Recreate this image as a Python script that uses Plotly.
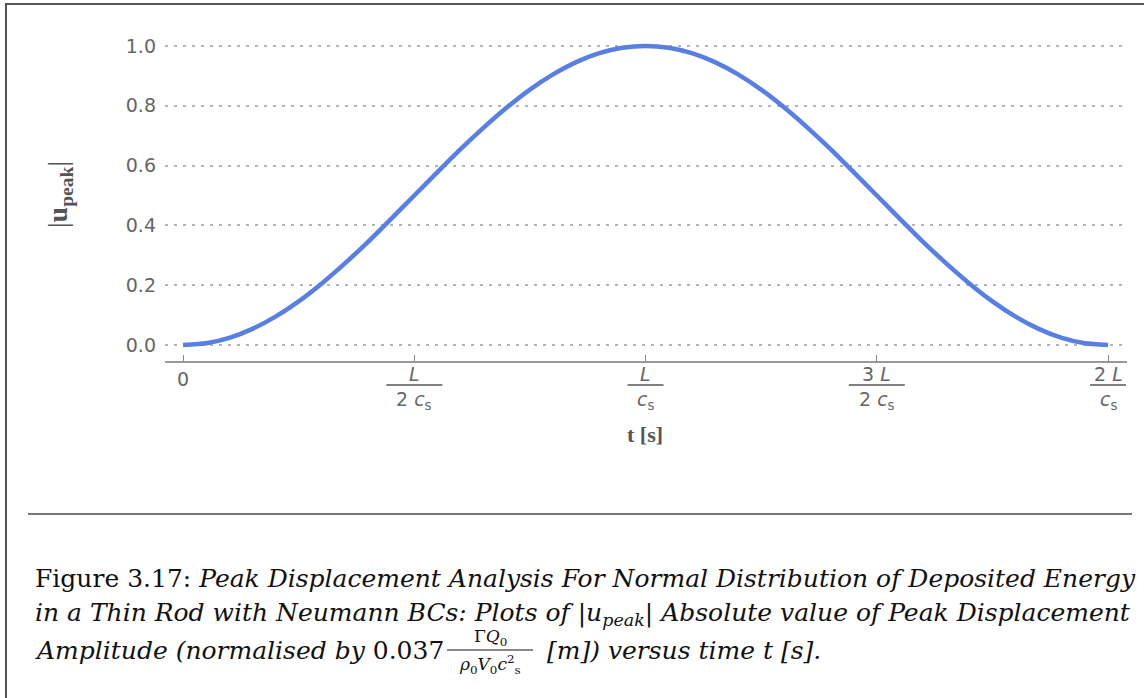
import plotly.graph_objects as go

# ---- data -------------------------------------------------------------
# time in units of L / c_s
t_ratio = [0.00, 0.05, 0.10, 0.15, 0.20, 0.25, 0.30, 0.35, 0.40, 0.45,
           0.50, 0.55, 0.60, 0.65, 0.70, 0.75, 0.80, 0.85, 0.90, 0.95,
           1.00, 1.05, 1.10, 1.15, 1.20, 1.25, 1.30, 1.35, 1.40, 1.45,
           1.50, 1.55, 1.60, 1.65, 1.70, 1.75, 1.80, 1.85, 1.90, 1.95, 2.00]
# normalised |u_peak|
u_peak = [0.000, 0.006, 0.024, 0.054, 0.095, 0.146, 0.206, 0.273, 0.345, 0.422,
          0.500, 0.578, 0.655, 0.727, 0.794, 0.854, 0.905, 0.946, 0.976, 0.994,
          1.000, 0.994, 0.976, 0.946, 0.905, 0.854, 0.794, 0.727, 0.655, 0.578,
          0.500, 0.422, 0.345, 0.273, 0.206, 0.146, 0.095, 0.054, 0.024, 0.006,
          0.000]

x_tick_vals = [0.0, 0.5, 1.0, 1.5, 2.0]
x_tick_text = ["0", "", "", "", ""]
x_frac_num = ["", "<i>L</i>", "<i>L</i>", "3 <i>L</i>", "2 <i>L</i>"]
x_frac_den = ["", "2 <i>c</i><sub>s</sub>", "<i>c</i><sub>s</sub>",
              "2 <i>c</i><sub>s</sub>", "<i>c</i><sub>s</sub>"]

y_tick_vals = [0.0, 0.2, 0.4, 0.6, 0.8, 1.0]
y_tick_text = ["0.0", "0.2", "0.4", "0.6", "0.8", "1.0"]

# ---- layout geometry (pixels) ----------------------------------------
W, H = 1144, 698
PL, PR, PT, PB = 165, 1127, 37, 361


def px_x(x):
    return (x - PL) / (PR - PL)


def px_y(y):
    return (PB - y) / (PB - PT)


TICK_FONT = dict(family="DejaVu Sans", size=19, color="#666666")
SERIF = "DejaVu Serif"
CAPTION_FONT = dict(family=SERIF, size=25, color="#111111")

fig = go.Figure()
fig.add_trace(go.Scatter(
    x=t_ratio, y=u_peak, mode="lines",
    line=dict(color="#5A7FE2", width=4.5, shape="spline", smoothing=0.6),
    hoverinfo="skip", showlegend=False,
))

annotations = []
shapes = []

# fractional tick labels on the time axis
for xv, num, den in zip(x_tick_vals, x_frac_num, x_frac_den):
    if not num:
        continue
    half = 28 if den.startswith("2") else 18
    annotations.append(dict(x=xv, y=px_y(374), xref="x", yref="paper",
                            text=num, showarrow=False, font=TICK_FONT,
                            xanchor="center", yanchor="middle"))
    annotations.append(dict(x=xv, y=px_y(400), xref="x", yref="paper",
                            text=den, showarrow=False, font=TICK_FONT,
                            xanchor="center", yanchor="middle"))
    shapes.append(dict(type="line", xref="x", yref="paper",
                       xsizemode="pixel", xanchor=xv, x0=-half, x1=half,
                       y0=px_y(385), y1=px_y(385),
                       line=dict(color="#808080", width=2)))

# axis titles
annotations.append(dict(x=px_x(645), y=px_y(435), xref="paper", yref="paper",
                        text="<b>t [s]</b>", showarrow=False,
                        font=dict(family="Liberation Serif", size=22, color="#555555"),
                        xanchor="center", yanchor="middle"))
annotations.append(dict(x=px_x(60), y=px_y(195), xref="paper", yref="paper",
                        text="|<b>u</b><sub><b>peak</b></sub>|", showarrow=False,
                        textangle=-90,
                        font=dict(family="Liberation Serif", size=28, color="#555555"),
                        xanchor="center", yanchor="middle"))

# caption
cap_lines = [
    (578, "Figure 3.17: <i>Peak Displacement Analysis For Normal Distribution "
          "of Deposited Energy</i>"),
    (614, "<i>in a Thin Rod with Neumann BCs: Plots of </i>|<i>u<sub>peak</sub></i>|"
          "<i> Absolute value of Peak Displacement</i>"),
    (650, "<i>Amplitude (normalised by </i>0.037"),
]
for yy, txt in cap_lines:
    annotations.append(dict(x=px_x(33), y=px_y(yy), xref="paper", yref="paper",
                            text=txt, showarrow=False, font=CAPTION_FONT,
                            xanchor="left", yanchor="middle"))
# normalisation factor as a small fraction
FRAC_X = 490
frac_font = dict(family=SERIF, size=17, color="#111111")
annotations.append(dict(x=px_x(FRAC_X), y=px_y(637), xref="paper", yref="paper",
                        text="Γ<i>Q</i><sub>0</sub>", showarrow=False,
                        font=frac_font, xanchor="center", yanchor="middle"))
annotations.append(dict(x=px_x(FRAC_X), y=px_y(664), xref="paper", yref="paper",
                        text="<i>ρ</i><sub>0</sub><i>V</i><sub>0</sub><i>c</i><sup>2</sup><sub>s</sub>",
                        showarrow=False, font=frac_font,
                        xanchor="center", yanchor="middle"))
shapes.append(dict(type="line", xref="paper", yref="paper",
                   x0=px_x(FRAC_X - 43), x1=px_x(FRAC_X + 43),
                   y0=px_y(650), y1=px_y(650),
                   line=dict(color="#111111", width=1.2)))
annotations.append(dict(x=px_x(FRAC_X + 55), y=px_y(650), xref="paper", yref="paper",
                        text="<i>[m]) versus time t [s].</i>", showarrow=False,
                        font=CAPTION_FONT, xanchor="left", yanchor="middle"))

# rule above the caption and the page frame
shapes.append(dict(type="line", xref="paper", yref="paper",
                   x0=px_x(28), x1=px_x(1132), y0=px_y(514), y1=px_y(514),
                   line=dict(color="#777777", width=2)))
shapes.append(dict(type="line", xref="paper", yref="paper",
                   x0=px_x(5), x1=px_x(1144), y0=px_y(4), y1=px_y(4),
                   line=dict(color="#555555", width=2)))
shapes.append(dict(type="line", xref="paper", yref="paper",
                   x0=px_x(6), x1=px_x(6), y0=px_y(4), y1=px_y(698),
                   line=dict(color="#555555", width=2)))

fig.update_layout(
    width=W, height=H,
    margin=dict(l=PL, r=W - PR, t=PT, b=H - PB, pad=0),
    paper_bgcolor="white", plot_bgcolor="white",
    showlegend=False,
    annotations=annotations,
    shapes=shapes,
    xaxis=dict(
        range=[-0.039, 2.041],
        tickmode="array", tickvals=x_tick_vals, ticktext=x_tick_text,
        ticks="inside", ticklen=6, tickwidth=1.2, tickcolor="#888888",
        tickfont=TICK_FONT,
        showline=True, linecolor="#999999", linewidth=1.5,
        showgrid=False, zeroline=False,
    ),
    yaxis=dict(
        range=[-0.0535, 1.03],
        tickmode="array", tickvals=y_tick_vals, ticktext=y_tick_text,
        ticks="", tickfont=dict(family="DejaVu Sans", size=19, color="#666666"),
        ticklabelstandoff=8,
        showline=False, zeroline=False,
        showgrid=True, gridcolor="#b3b3b3", gridwidth=1.5, griddash="3px,6px",
    ),
)

fig.write_html("out.html")
